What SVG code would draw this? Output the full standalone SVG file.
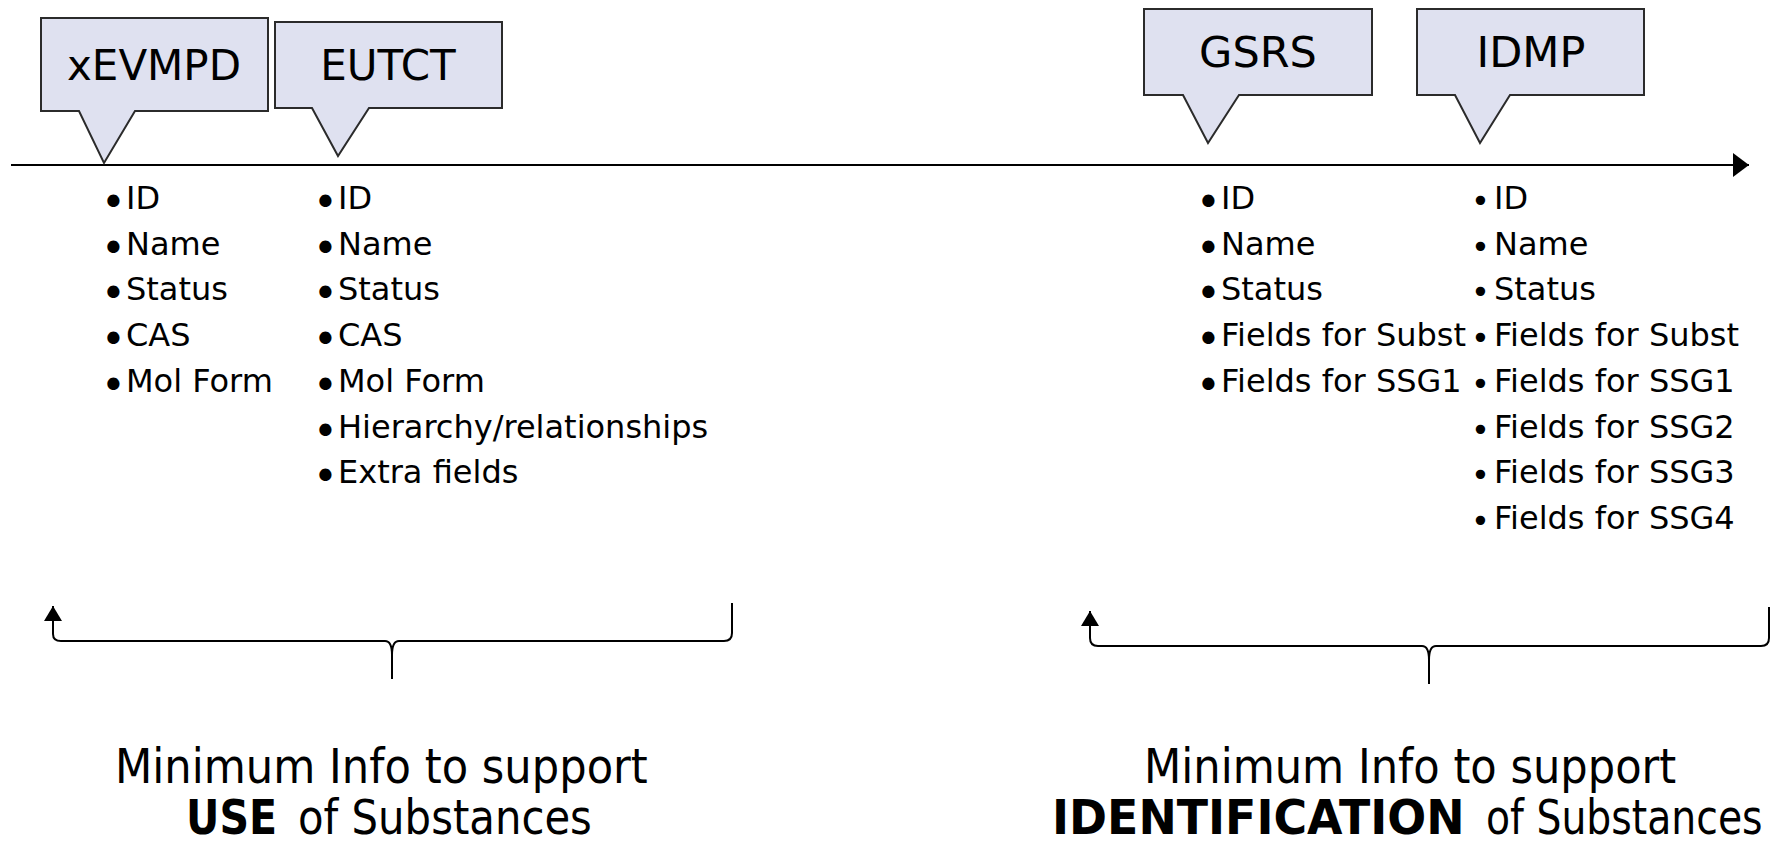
<svg xmlns="http://www.w3.org/2000/svg" width="1785" height="845" viewBox="0 0 1785 845">
<style>
.callout{fill:#DFE1F0;stroke:#2b2b2b;stroke-width:2;stroke-linejoin:miter}
.head{font-family:"DejaVu Sans",Verdana,sans-serif;font-size:42px;fill:#000;text-anchor:middle}
.item{font-family:"DejaVu Sans",Verdana,sans-serif;font-size:32px;fill:#000}
.bl{font-size:42px}
.bs{font-size:32px}
.cap{font-family:"DejaVu Sans",Tahoma,sans-serif;font-size:48px;fill:#000}
.bold{font-weight:bold}
.line{fill:none;stroke:#000;stroke-width:2}
</style>
<defs>
<marker id="arr" viewBox="0 0 16 24" refX="16" refY="12" markerWidth="16" markerHeight="24" markerUnits="userSpaceOnUse" orient="auto">
<path d="M0,0 L16,12 L0,24 Z" fill="#000"/>
</marker>
<marker id="arrs" viewBox="0 0 15 18" refX="15" refY="9" markerWidth="15" markerHeight="18" markerUnits="userSpaceOnUse" orient="auto">
<path d="M0,0 L15,9 L0,18 Z" fill="#000"/>
</marker>
</defs>

<g id="connectors">
<line class="line" x1="11" y1="165" x2="1749" y2="165" marker-end="url(#arr)"/>
<path class="line" d="M53,634 Q53,641 61,641 H385 Q392,641 392,655 V679 M732,603 V633 Q732,641 724,641 H399 Q392,641 392,655" />
<path class="line" d="M53,634 V606" marker-end="url(#arrs)"/>
<path class="line" d="M1090,638 Q1090,646 1098,646 H1422 Q1429,646 1429,660 V684 M1769,607 V638 Q1769,646 1761,646 H1436 Q1429,646 1429,660" />
<path class="line" d="M1090,638 V611" marker-end="url(#arrs)"/>
</g>

<g id="xevmpd">
<path class="callout" d="M41,18 H268 V111 H135 L104,163 L79,111 H41 Z"/>
<text class="head" x="154" y="80">xEVMPD</text>
</g>
<g id="eutct">
<path class="callout" d="M275,22 H502 V108 H369 L338,156 L312,108 H275 Z"/>
<text class="head" x="388" y="80">EUTCT</text>
</g>
<g id="gsrs">
<path class="callout" d="M1144,9 H1372 V95 H1239 L1208,143 L1183,95 H1144 Z"/>
<text class="head" x="1258" y="67" style="font-size:43px">GSRS</text>
</g>
<g id="idmp">
<path class="callout" d="M1417,9 H1644 V95 H1510 L1480,143 L1455,95 H1417 Z"/>
<text class="head" x="1531" y="67" style="font-size:43px">IDMP</text>
</g>

<g id="list-xevmpd">
<text class="item" y="209"><tspan class="bl" x="101" dy="8">•</tspan><tspan x="126" dy="-8">ID</tspan></text>
<text class="item" y="255"><tspan class="bl" x="101" dy="8">•</tspan><tspan x="126" dy="-8">Name</tspan></text>
<text class="item" y="300"><tspan class="bl" x="101" dy="8">•</tspan><tspan x="126" dy="-8">Status</tspan></text>
<text class="item" y="346"><tspan class="bl" x="101" dy="8">•</tspan><tspan x="126" dy="-8">CAS</tspan></text>
<text class="item" y="392"><tspan class="bl" x="101" dy="8">•</tspan><tspan x="126" dy="-8">Mol Form</tspan></text>
</g>
<g id="list-eutct">
<text class="item" y="209"><tspan class="bl" x="313" dy="8">•</tspan><tspan x="338" dy="-8">ID</tspan></text>
<text class="item" y="255"><tspan class="bl" x="313" dy="8">•</tspan><tspan x="338" dy="-8">Name</tspan></text>
<text class="item" y="300"><tspan class="bl" x="313" dy="8">•</tspan><tspan x="338" dy="-8">Status</tspan></text>
<text class="item" y="346"><tspan class="bl" x="313" dy="8">•</tspan><tspan x="338" dy="-8">CAS</tspan></text>
<text class="item" y="392"><tspan class="bl" x="313" dy="8">•</tspan><tspan x="338" dy="-8">Mol Form</tspan></text>
<text class="item" y="438"><tspan class="bl" x="313" dy="8">•</tspan><tspan x="338" dy="-8">Hierarchy/relationships</tspan></text>
<text class="item" y="483"><tspan class="bl" x="313" dy="8">•</tspan><tspan x="338" dy="-8">Extra fields</tspan></text>
</g>
<g id="list-gsrs">
<text class="item" y="209"><tspan class="bl" x="1196" dy="8">•</tspan><tspan x="1221" dy="-8">ID</tspan></text>
<text class="item" y="255"><tspan class="bl" x="1196" dy="8">•</tspan><tspan x="1221" dy="-8">Name</tspan></text>
<text class="item" y="300"><tspan class="bl" x="1196" dy="8">•</tspan><tspan x="1221" dy="-8">Status</tspan></text>
<text class="item" y="346"><tspan class="bl" x="1196" dy="8">•</tspan><tspan x="1221" dy="-8">Fields for Subst</tspan></text>
<text class="item" y="392"><tspan class="bl" x="1196" dy="8">•</tspan><tspan x="1221" dy="-8">Fields for SSG1</tspan></text>
</g>
<g id="list-idmp">
<text class="item" y="209"><tspan class="bs" x="1471" dy="3">•</tspan><tspan x="1494" dy="-3">ID</tspan></text>
<text class="item" y="255"><tspan class="bs" x="1471" dy="3">•</tspan><tspan x="1494" dy="-3">Name</tspan></text>
<text class="item" y="300"><tspan class="bs" x="1471" dy="3">•</tspan><tspan x="1494" dy="-3">Status</tspan></text>
<text class="item" y="346"><tspan class="bs" x="1471" dy="3">•</tspan><tspan x="1494" dy="-3">Fields for Subst</tspan></text>
<text class="item" y="392"><tspan class="bs" x="1471" dy="3">•</tspan><tspan x="1494" dy="-3">Fields for SSG1</tspan></text>
<text class="item" y="438"><tspan class="bs" x="1471" dy="3">•</tspan><tspan x="1494" dy="-3">Fields for SSG2</tspan></text>
<text class="item" y="483"><tspan class="bs" x="1471" dy="3">•</tspan><tspan x="1494" dy="-3">Fields for SSG3</tspan></text>
<text class="item" y="529"><tspan class="bs" x="1471" dy="3">•</tspan><tspan x="1494" dy="-3">Fields for SSG4</tspan></text>
</g>

<g id="caption-use">
<text class="cap" transform="translate(115,783) scale(0.901,1)">Minimum Info to support</text>
<text class="cap bold" transform="translate(186,834) scale(0.857,1)">USE</text>
<text class="cap" transform="translate(298,834) scale(0.871,1)">of Substances</text>
</g>
<g id="caption-identification">
<text class="cap" transform="translate(1144,783) scale(0.9,1)">Minimum Info to support</text>
<text class="cap bold" transform="translate(1052,834) scale(0.955,1)">IDENTIFICATION</text>
<text class="cap" transform="translate(1486,834) scale(0.82,1)">of Substances</text>
</g>
</svg>
